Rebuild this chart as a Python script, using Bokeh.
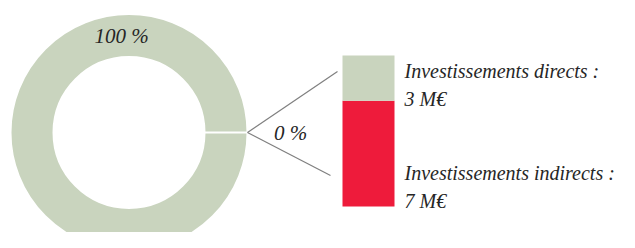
import math
from bokeh.plotting import figure
from bokeh.models import Range1d, ColumnDataSource
from bokeh.core.properties import value
from bokeh.embed import file_html
from bokeh.resources import INLINE

# ---- data ----
pie_labels = ["100 %", "0 %"]
pie_shares = [100, 0]
bar_series = ["Investissements indirects", "Investissements directs"]
bar_values = [7, 3]           # M€ (bottom, top)
bar_texts = ["Investissements indirects :", "Investissements directs :"]
bar_value_texts = ["7 M€", "3 M€"]

GREEN = "#c9d4be"
RED = "#ee1b3b"
TXT = "#262626"
FONT = value("Liberation Serif")

W, H = 619, 232
# data coords: x = image x, y = (H - image y)
def py(img_y):
    return H - img_y

p = figure(width=W, height=H, output_backend="svg", toolbar_location=None,
           x_range=Range1d(0, W), y_range=Range1d(0, H),
           x_axis_location=None, y_axis_location=None, min_border=0)
p.outline_line_color = None
p.grid.visible = False

# ---- donut ----
cx, cy = 128.5, py(132)
r_in, r_out = 75.5, 118.5
total = sum(pie_shares)
starts, ends = [], []
acc = 0.0
for s in pie_shares:
    starts.append(acc / total * 2 * math.pi)
    acc += s
    ends.append(acc / total * 2 * math.pi)
p.annular_wedge(x=cx, y=cy, inner_radius=r_in, outer_radius=r_out,
                start_angle=starts, end_angle=ends, fill_color=GREEN,
                line_color="white", line_width=2,
                inner_radius_units="screen", outer_radius_units="screen")

# slice labels
p.text(x=[121], y=[py(35)], text=[pie_labels[0]], text_font=FONT,
       text_font_style="italic", text_font_size="21px", text_color=TXT,
       text_align="center", text_baseline="middle")
p.text(x=[290], y=[py(132)], text=[pie_labels[1]], text_font=FONT,
       text_font_style="italic", text_font_size="21px", text_color=TXT,
       text_align="center", text_baseline="middle")

# connector lines from the 0 % slice to the bar
p.segment(x0=[cx + r_out, cx + r_out], y0=[cy, cy], x1=[337, 330],
          y1=[py(71), py(175)], line_color="#7f7f7f", line_width=1.2)

# ---- stacked bar ----
px_per_unit = (206 - 55) / sum(bar_values)
lo = -(H - 206) / px_per_unit
hi = lo + H / px_per_unit
p.extra_y_ranges = {"bar": Range1d(lo, hi)}
src = ColumnDataSource(dict(x=[368], **{s: [v] for s, v in zip(bar_series, bar_values)}))
p.vbar_stack(bar_series, x="x", width=52, source=src, color=[RED, GREEN],
             line_color=None, y_range_name="bar")

# labels beside the bar segments
label_y = [py(172), py(70)]
value_y = [py(200), py(98)]
p.text(x=[404, 404], y=label_y, text=bar_texts, text_font=FONT,
       text_font_style="italic", text_font_size="20px", text_color=TXT,
       text_align="left", text_baseline="middle")
p.text(x=[404, 404], y=value_y, text=bar_value_texts, text_font=FONT,
       text_font_style="italic", text_font_size="20px", text_color=TXT,
       text_align="left", text_baseline="middle")

open("out.html", "w").write(file_html(p, INLINE))
